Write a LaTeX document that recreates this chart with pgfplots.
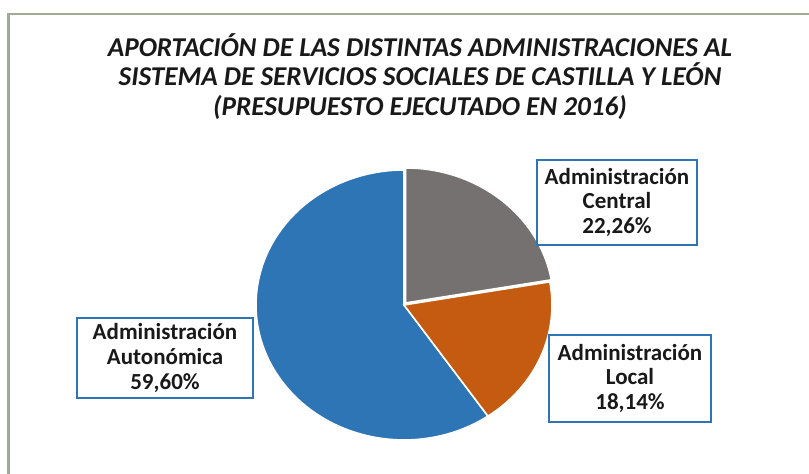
\documentclass[border=0pt]{standalone}
\usepackage{pgfplots}
\pgfplotsset{compat=1.18}
\usepackage{fontspec}
\setmainfont{Carlito}
\definecolor{cblue}{RGB}{46,117,182}
\definecolor{corange}{RGB}{197,90,17}
\definecolor{cgray}{RGB}{118,113,113}
\definecolor{cframe}{RGB}{160,170,150}
\definecolor{ctext}{RGB}{25,25,25}
% shares (%) of the pie
\def\vCentral{22.26}
\def\vLocal{18.14}
\def\vAuto{59.60}
\begin{document}
\begin{tikzpicture}
\useasboundingbox (0,0) rectangle (404.5pt,237pt);
\begin{axis}[
  at={(0,0)}, anchor=south west,
  width=404.5pt, height=237pt, scale only axis,
  xmin=0, xmax=809, ymin=0, ymax=474, y dir=reverse,
  hide axis, clip=false]
% frame
\draw[cframe, line width=1.1pt] (axis cs:8.5,474) -- (axis cs:8.5,14.5) -- (axis cs:809,14.5);
% angles
\pgfmathsetmacro\aC{90-3.6*\vCentral}
\pgfmathsetmacro\aL{\aC-3.6*\vLocal}
\pgfmathsetmacro\aA{\aL-3.6*\vAuto}
% slices
\fill[cblue, draw=white, line width=0.8pt] (axis cs:404,305) -- ++({74pt*cos(\aL)},{67.5pt*sin(\aL)})
   arc[start angle=\aL, end angle=\aA, x radius=74pt, y radius=67.5pt] -- cycle;
\fill[corange, draw=white, line width=0.8pt] (axis cs:404,305) -- ++({74pt*cos(\aC)},{67.5pt*sin(\aC)})
   arc[start angle=\aC, end angle=\aL, x radius=74pt, y radius=67.5pt] -- cycle;
\fill[cgray, draw=white, line width=0.8pt] (axis cs:405.5,303) -- ++(0,67.5pt)
   arc[start angle=90, end angle=\aC, x radius=74pt, y radius=67.5pt] -- cycle;
% title
\node[font=\fontsize{13.6pt}{14.75pt}\selectfont\bfseries\itshape, text=ctext, align=center, anchor=north, inner sep=0pt]
  at (axis cs:420,33) {APORTACIÓN DE LAS DISTINTAS ADMINISTRACIONES AL\\SISTEMA DE SERVICIOS SOCIALES DE CASTILLA Y LEÓN\\(PRESUPUESTO EJECUTADO EN 2016)};
% labels
\tikzset{lbl/.style={draw=cblue, line width=1pt, fill=white, text=ctext, align=center, inner sep=0pt,
  font=\fontsize{11.5pt}{12.4pt}\selectfont\bfseries}}
\node[lbl, minimum width=88pt, minimum height=40pt] at (axis cs:165,358) {Administración\\Autonómica\\59,60\%};
\node[lbl, minimum width=80pt, minimum height=42.5pt] at (axis cs:617,202.5) {Administración\\Central\\22,26\%};
\node[lbl, minimum width=81pt, minimum height=43.5pt] at (axis cs:630,378.5) {Administración\\Local\\18,14\%};
\end{axis}
\end{tikzpicture}
\end{document}
